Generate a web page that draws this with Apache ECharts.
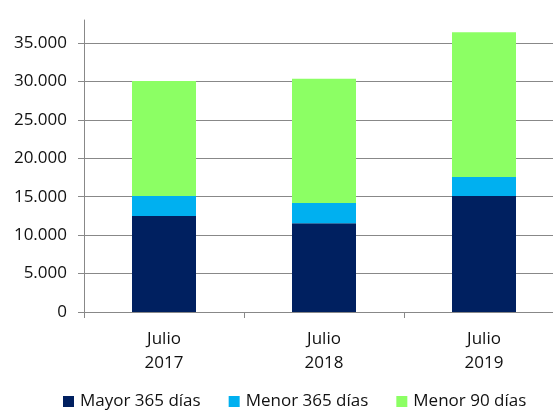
<!DOCTYPE html>
<html><head><meta charset="utf-8">
<script src="https://cdn.jsdelivr.net/npm/echarts@6/dist/echarts.min.js"></script>
<style>html,body{margin:0;padding:0;background:#fff}#c{width:553px;height:410px}</style>
</head><body><div id="c"></div>
<script>
const categories = ['Julio\n2017', 'Julio\n2018', 'Julio\n2019'];
const mayor365 = [12500, 11550, 15100];
const menor365 = [2600, 2630, 2470];
const menor90 = [14950, 16180, 18830];
const yTicks = [0, 5000, 10000, 15000, 20000, 25000, 30000, 35000];
const seriesNames = ['Mayor 365 días', 'Menor 365 días', 'Menor 90 días'];

function fmt(v){ return String(v).replace(/\B(?=(\d{3})+(?!\d))/g, '.'); }
const font = 'Open Sans';
const chart = echarts.init(document.getElementById('c'));
chart.setOption({
  animation: false,
  textStyle: {fontFamily: font},
  grid: {left: 84, top: 20, right: -11, bottom: 98, containLabel: false, outerBoundsMode: 'none'},
  legend: {
    data: seriesNames, top: 393, left: 63, padding: 0,
    itemWidth: 11, itemHeight: 11, itemGap: 28,
    icon: 'rect',
    textStyle: {fontFamily: font, fontSize: 17, color: '#111', padding: [0,0,0,1]}
  },
  xAxis: {
    type: 'category', data: categories,
    axisLine: {lineStyle: {color: '#888', width: 1}},
    axisTick: {show: true, length: 6, lineStyle: {color: '#888'}},
    axisLabel: {fontFamily: font, fontSize: 17, color: '#111', lineHeight: 24, margin: 15}
  },
  yAxis: {
    type: 'value', min: 0, max: 38000, interval: 5000,
    axisLine: {show: true, lineStyle: {color: '#888', width: 1}},
    axisTick: {show: true, length: 6, lineStyle: {color: '#888'}, customValues: yTicks},
    axisLabel: {fontFamily: font, fontSize: 17, color: '#111', margin: 17, customValues: yTicks, formatter: fmt},
    splitLine: {show: true, lineStyle: {color: '#888', width: 1}}
  },
  series: [
    {name: seriesNames[0], type: 'bar', stack: 's', data: mayor365, barWidth: '40%', itemStyle: {color: '#002060'}},
    {name: seriesNames[1], type: 'bar', stack: 's', data: menor365, barWidth: '40%', itemStyle: {color: '#00B0F0'}},
    {name: seriesNames[2], type: 'bar', stack: 's', data: menor90, barWidth: '40%', itemStyle: {color: '#8CFF64'}}
  ]
});
</script></body></html>
